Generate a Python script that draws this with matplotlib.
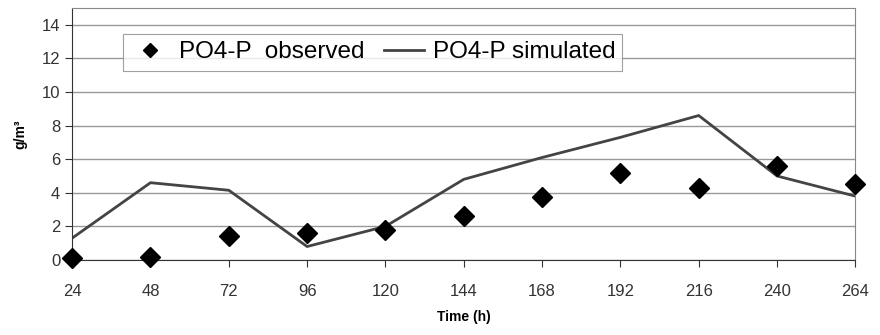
import matplotlib.pyplot as plt

plt.rcParams['font.family'] = ['Liberation Sans', 'DejaVu Sans']

time_h = [24, 48, 72, 96, 120, 144, 168, 192, 216, 240, 264]
observed = [0.1, 0.15, 1.4, 1.6, 1.8, 2.6, 3.75, 5.2, 4.3, 5.6, 4.55]
simulated = [1.3, 4.6, 4.15, 0.8, 2.0, 4.8, 6.1, 7.3, 8.6, 5.0, 3.8]
yticks = [0, 2, 4, 6, 8, 10, 12, 14]

fig = plt.figure(figsize=(8.8, 3.35), dpi=100)
ax = fig.add_axes([0.082, 0.224, 0.89, 0.752])

ax.plot(time_h, observed, ls='none', marker='D', ms=10, color='black',
        label='PO4-P  observed', zorder=3, clip_on=False)
ax.plot(time_h, simulated, color='#444444', lw=2, label='PO4-P simulated', zorder=2)

ax.set_xlim(24, 264)
ax.set_ylim(0, 15)
ax.set_xticks(time_h)
ax.set_yticks(yticks)
ax.grid(axis='y', color='#999999', lw=1)
ax.set_axisbelow(True)
for s in ['top', 'right']:
    ax.spines[s].set_color('#888888')
for s in ['left', 'bottom']:
    ax.spines[s].set_color('#333333')
ax.tick_params(axis='both', labelsize=12, colors='#333333', length=5, width=0.8, direction='out')
ax.tick_params(axis='x', pad=12)

ax.set_xlabel('Time (h)', fontsize=10, fontweight='bold', labelpad=8)
ax.set_ylabel('g/m³', fontsize=10, fontweight='bold', labelpad=10)

leg = ax.legend(loc='upper left', bbox_to_anchor=(0.065, 0.897), ncol=2, fontsize=17.5,
                frameon=True, fancybox=False, handlelength=1.65, handletextpad=0.35,
                columnspacing=0.8, borderpad=0.3, borderaxespad=0, markerscale=0.75)
leg.get_frame().set_edgecolor('#888888')
leg.get_frame().set_linewidth(0.8)

fig.savefig('out.png', dpi=100)
